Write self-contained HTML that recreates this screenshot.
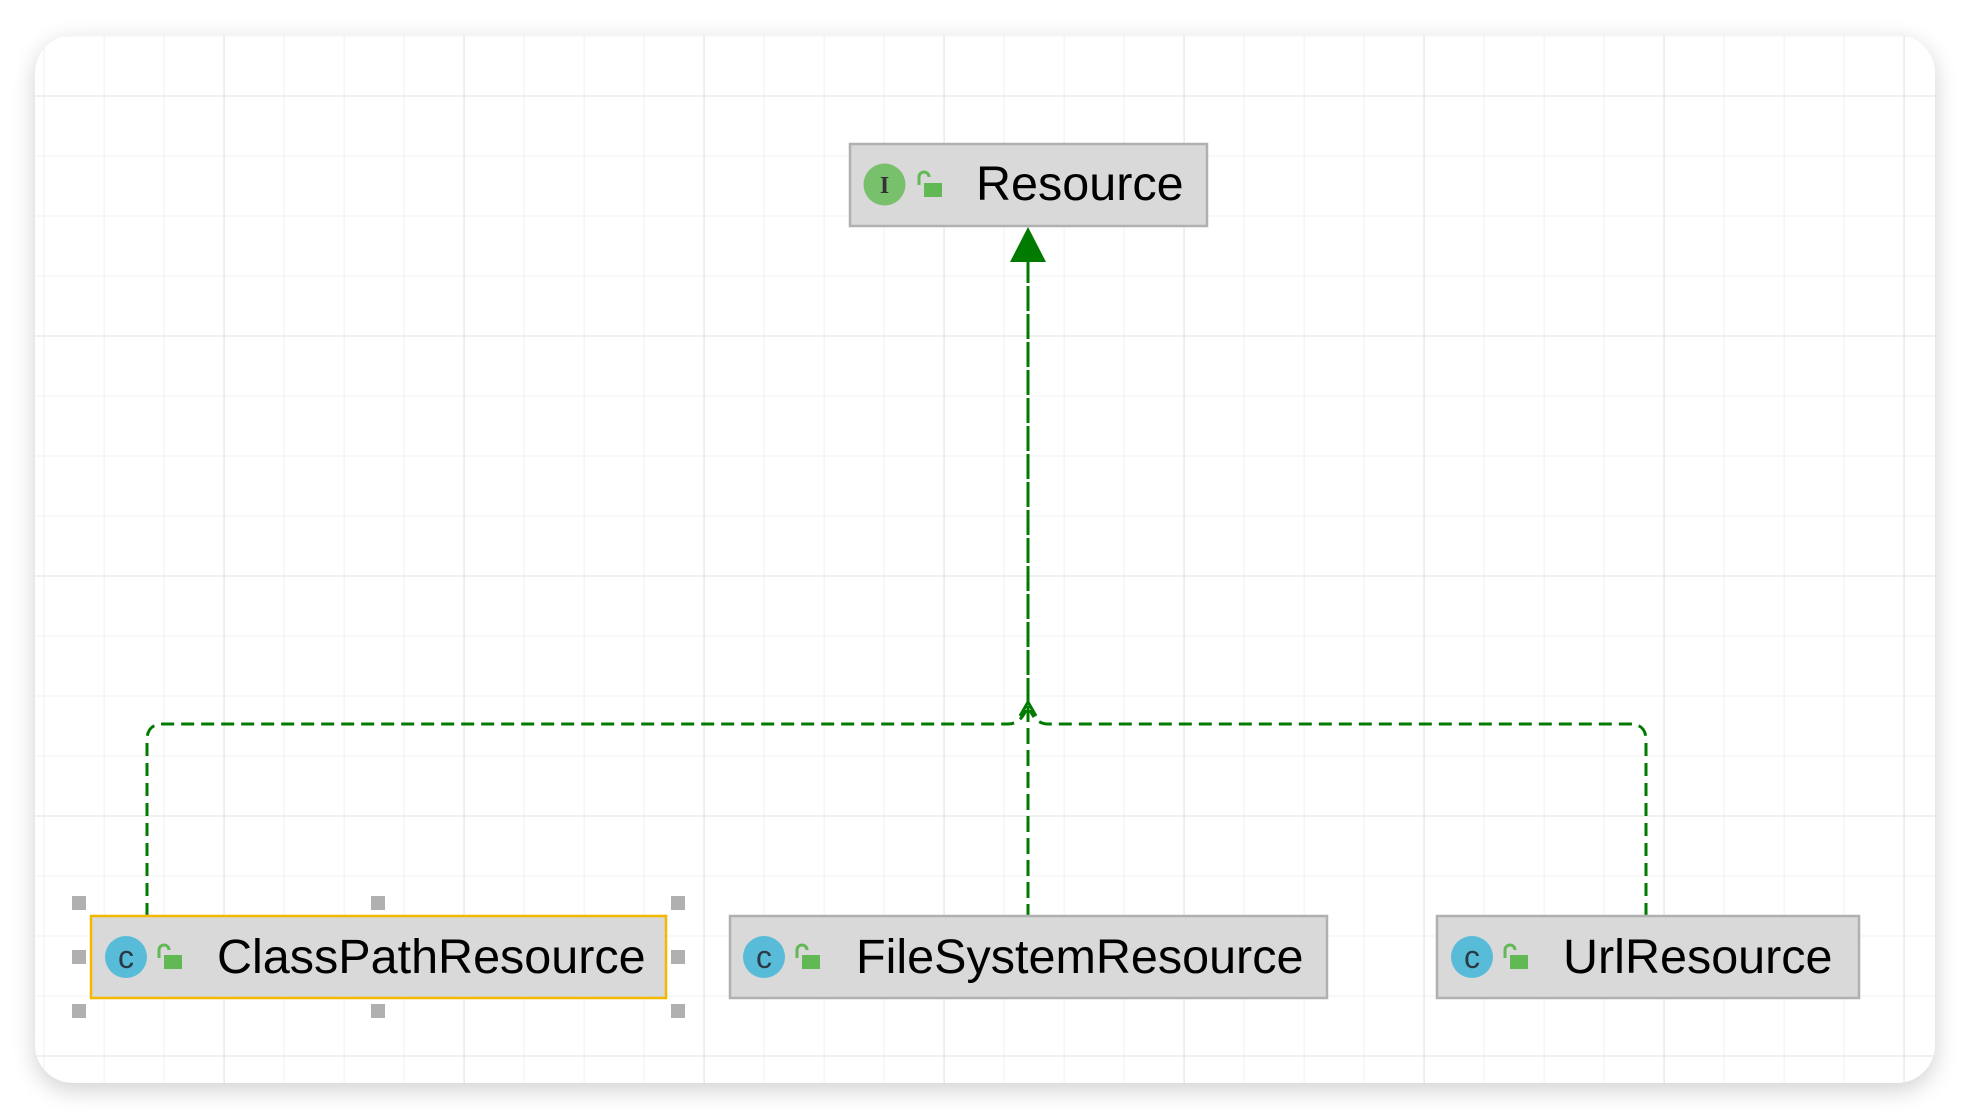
<!DOCTYPE html>
<html><head><meta charset="utf-8"><style>
html,body{margin:0;padding:0;background:#fff;width:1970px;height:1118px;overflow:hidden}
text{font-family:"Liberation Sans",sans-serif}
</style></head><body>
<svg width="1970" height="1118" viewBox="0 0 1970 1118" xmlns="http://www.w3.org/2000/svg">
<defs>
<filter id="sh" x="-5%" y="-5%" width="110%" height="115%"><feGaussianBlur stdDeviation="12"/></filter>
<pattern id="minor" x="43.6" y="35.5" width="60" height="60" patternUnits="userSpaceOnUse">
<path d="M0 0V60M0 0H60" stroke="#f0f0f0" stroke-width="2" fill="none"/></pattern>
<pattern id="major" x="223.6" y="95.5" width="240" height="240" patternUnits="userSpaceOnUse">
<path d="M0 0V240M0 0H240" stroke="#e2e2e2" stroke-width="2" fill="none"/></pattern>
<clipPath id="cc"><rect x="35" y="35" width="1900" height="1048" rx="38"/></clipPath>
</defs>
<rect x="35" y="42" width="1900" height="1048" rx="38" fill="#000" opacity="0.18" filter="url(#sh)"/>
<rect x="35" y="35" width="1900" height="1048" rx="38" fill="#fff"/>
<g clip-path="url(#cc)">
<rect x="35" y="35" width="1900" height="1048" fill="url(#minor)"/>
<rect x="35" y="35" width="1900" height="1048" fill="url(#major)"/>
</g>
<g fill="none" stroke="#007a00" stroke-width="3">
<path d="M1028 258V706" stroke-dasharray="25 3"/>
<path d="M1028 706V916" stroke-dasharray="16 6"/>
<path d="M147 916V740Q147 724 163 724H1008Q1020 724 1026 710" stroke-dasharray="13 7"/>
<path d="M1646 916V740Q1646 724 1630 724H1048Q1036 724 1030 710" stroke-dasharray="13 7"/>
<path d="M1020 716L1028 702L1036 716"/>
</g>
<polygon points="1028,227 1010,262 1046,262" fill="#007a00"/>
<rect x="850" y="144" width="357" height="82" fill="#d9d9d9" stroke="#b0b0b0" stroke-width="2.5"/>
<circle cx="884.5" cy="184.5" r="21" fill="#78c06c"/>
<text x="884.5" y="193" font-size="24" font-weight="bold" fill="#333" text-anchor="middle" style="font-family:'Liberation Serif',serif">I</text>
<g fill="#63b856"><rect x="924" y="183" width="18" height="14"/><path d="M919 185v-8a5 5 0 0 1 10 0" fill="none" stroke="#63b856" stroke-width="3"/></g>
<text x="976" y="200" font-size="48.5" fill="#000">Resource</text>
<rect x="91" y="916" width="575" height="82" fill="#d9d9d9" stroke="#f5b800" stroke-width="2.5"/>
<g fill="#b0b0b0">
<rect x="72" y="896" width="14" height="14"/><rect x="371" y="896" width="14" height="14"/><rect x="671" y="896" width="14" height="14"/>
<rect x="72" y="950" width="14" height="14"/><rect x="671" y="950" width="14" height="14"/>
<rect x="72" y="1004" width="14" height="14"/><rect x="371" y="1004" width="14" height="14"/><rect x="671" y="1004" width="14" height="14"/>
</g>
<rect x="730" y="916" width="597" height="82" fill="#d9d9d9" stroke="#b0b0b0" stroke-width="2.5"/>
<rect x="1437" y="916" width="422" height="82" fill="#d9d9d9" stroke="#b0b0b0" stroke-width="2.5"/>
<g>
<circle cx="126" cy="957" r="21" fill="#58bcd9"/><text x="126" y="968" font-size="32" fill="#2a3a44" text-anchor="middle">c</text>
<rect x="164" y="955" width="18" height="14" fill="#63b856"/><path d="M159 958v-8a5 5 0 0 1 10 0" fill="none" stroke="#63b856" stroke-width="3"/>
<text x="217" y="973" font-size="48.5" fill="#000">ClassPathResource</text>
<circle cx="764" cy="957" r="21" fill="#58bcd9"/><text x="764" y="968" font-size="32" fill="#2a3a44" text-anchor="middle">c</text>
<rect x="802" y="955" width="18" height="14" fill="#63b856"/><path d="M797 958v-8a5 5 0 0 1 10 0" fill="none" stroke="#63b856" stroke-width="3"/>
<text x="856" y="973" font-size="48.5" fill="#000">FileSystemResource</text>
<circle cx="1472" cy="957" r="21" fill="#58bcd9"/><text x="1472" y="968" font-size="32" fill="#2a3a44" text-anchor="middle">c</text>
<rect x="1510" y="955" width="18" height="14" fill="#63b856"/><path d="M1505 958v-8a5 5 0 0 1 10 0" fill="none" stroke="#63b856" stroke-width="3"/>
<text x="1563" y="973" font-size="48.5" fill="#000">UrlResource</text>
</g>
</svg>
</body></html>
